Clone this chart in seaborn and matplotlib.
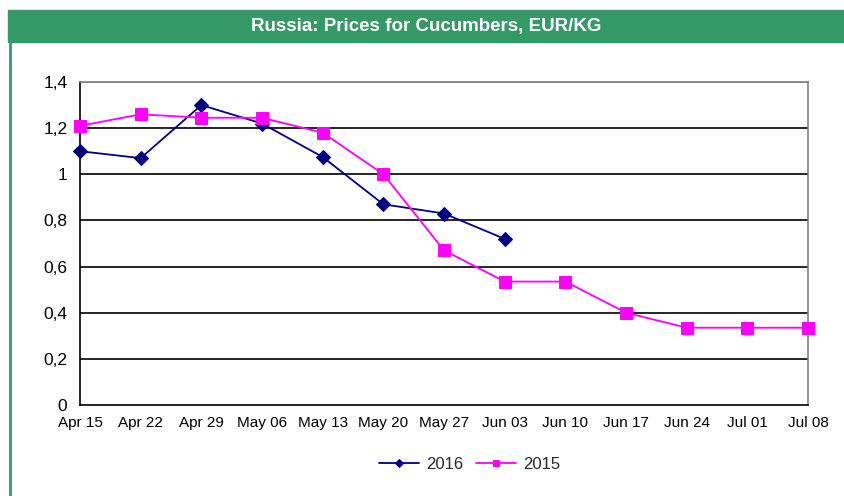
import matplotlib
matplotlib.use("Agg")
import matplotlib.pyplot as plt
import seaborn as sns
import pandas as pd
from matplotlib.patches import Rectangle
from matplotlib.lines import Line2D

dates = ["Apr 15", "Apr 22", "Apr 29", "May 06", "May 13", "May 20", "May 27",
         "Jun 03", "Jun 10", "Jun 17", "Jun 24", "Jul 01", "Jul 08"]
prices_2016 = [1.10, 1.07, 1.30, 1.22, 1.075, 0.87, 0.83, 0.72]
prices_2015 = [1.21, 1.26, 1.245, 1.245, 1.18, 1.00, 0.67, 0.535, 0.535, 0.40, 0.335, 0.335, 0.335]
y_ticks = [0, 0.2, 0.4, 0.6, 0.8, 1.0, 1.2, 1.4]
y_labels = ["0", "0,2", "0,4", "0,6", "0,8", "1", "1,2", "1,4"]
title = "Russia: Prices for Cucumbers, EUR/KG"

sns.set_theme(style="white")
plt.rcParams["font.family"] = ["Liberation Sans", "DejaVu Sans"]

df16 = pd.DataFrame({"x": list(range(len(prices_2016))), "y": prices_2016})
df15 = pd.DataFrame({"x": list(range(len(prices_2015))), "y": prices_2015})

fig = plt.figure(figsize=(8.45, 4.96), dpi=100)
W, H = 845, 496
ax = fig.add_axes([80 / W, 1 - 405 / H, (808 - 80) / W, (405 - 82) / H])

fig.patches.append(Rectangle((8 / W, 1 - 42 / H), (845 - 8) / W, 32 / H,
                             transform=fig.transFigure, color="#339966", zorder=0))
fig.lines.append(Line2D([10.5 / W, 10.5 / W], [0, 1 - 42 / H], transform=fig.transFigure,
                        color="#339966", lw=2))
fig.text((8 + 845) / 2 / W, 1 - 26 / H, title, color="white", fontsize=13.5,
         fontweight="bold", ha="center", va="center")

for yv in y_ticks[1:]:
    ax.axhline(yv, color="black" if yv < 1.39 else "#808080", lw=1.2, zorder=1)

sns.lineplot(data=df16, x="x", y="y", ax=ax, color="#000080", marker="D",
             markersize=7, markeredgecolor="#000080", lw=1.3, label="2016", zorder=3,
             clip_on=False)
sns.lineplot(data=df15, x="x", y="y", ax=ax, color="#FF00FF", marker="s",
             markersize=8, markeredgecolor="#FF00FF", lw=1.3, label="2015", zorder=3,
             clip_on=False)

ax.set_xlim(0, len(dates) - 1)
ax.set_ylim(0, 1.4)
ax.set_xticks(range(len(dates)))
ax.set_xticklabels(dates, fontsize=11)
ax.set_yticks(y_ticks)
ax.set_yticklabels(y_labels, fontsize=12.5)
ax.set_xlabel("")
ax.set_ylabel("")
ax.tick_params(axis="x", direction="inout", length=8, width=1, colors="black", pad=4)
ax.tick_params(axis="y", direction="out", length=5, width=1, colors="black", pad=4)
for s in ["left", "bottom"]:
    ax.spines[s].set_color("black")
    ax.spines[s].set_linewidth(1.2)
for s in ["top", "right"]:
    ax.spines[s].set_color("#808080")
    ax.spines[s].set_linewidth(1.2)

leg = ax.legend(loc="upper center", bbox_to_anchor=(0.535, -0.115), ncol=2, frameon=False,
                fontsize=12, handlelength=2.4, columnspacing=0.8, handletextpad=0.4)
for h in leg.legend_handles:
    h.set_markersize(4.5)

fig.savefig("out.png", dpi=100)
